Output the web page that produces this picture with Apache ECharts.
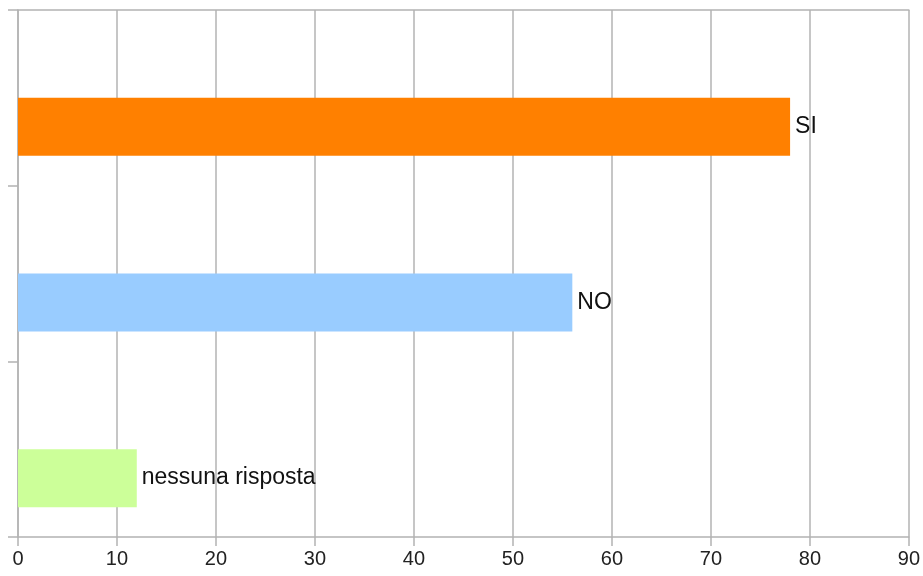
<!DOCTYPE html>
<html><head><meta charset="utf-8">
<script src="https://cdn.jsdelivr.net/npm/echarts@6/dist/echarts.min.js"></script>
<style>html,body{margin:0;padding:0;background:#fff}#c{width:923px;height:576px}</style>
</head><body><div id="c"></div>
<script>
const categories = ['nessuna risposta', 'NO', 'SI'];
const values = [12, 56, 78];
const emptyValues = [null, null, null];
const colors = ['#CCFF99', '#99CCFF', '#FF8000'];
const xTicks = [0, 10, 20, 30, 40, 50, 60, 70, 80, 90];

const chart = echarts.init(document.getElementById('c'));
chart.setOption({
  animation: false,
  grid: { left: 18, right: 10, top: 10, bottom: 39, containLabel: false },
  xAxis: [{
    type: 'value', min: xTicks[0], max: xTicks[xTicks.length - 1], interval: 10,
    axisLine: { show: true, lineStyle: { color: '#b3b3b3', width: 1.5 } },
    axisTick: { show: true, length: 9, lineStyle: { color: '#b3b3b3', width: 1.5 } },
    splitLine: { show: true, lineStyle: { color: '#b3b3b3', width: 1.5 } },
    axisLabel: { color: '#222', fontSize: 20, fontFamily: 'Liberation Sans', margin: 12 }
  }, {
    type: 'value', position: 'top', min: 0, max: 90,
    axisLine: { show: true, lineStyle: { color: '#b3b3b3', width: 1.5 } },
    axisTick: { show: false }, axisLabel: { show: false }, splitLine: { show: false }
  }],
  yAxis: {
    type: 'category', data: categories,
    axisLine: { show: true, lineStyle: { color: '#b3b3b3', width: 1.5 } },
    axisTick: { show: true, length: 10, lineStyle: { color: '#b3b3b3', width: 1.5 } },
    axisLabel: { show: false }
  },
  series: [{
    type: 'bar', xAxisIndex: 0, barCategoryGap: '34%', barGap: '0%',
    data: emptyValues
  }, {
    type: 'bar', xAxisIndex: 0, barCategoryGap: '34%', barGap: '0%',
    data: values.map((v, i) => ({ value: v, itemStyle: { color: colors[i] } })),
    label: {
      show: true, position: 'right', distance: 5,
      formatter: p => p.name,
      color: '#111', fontSize: 23, fontFamily: 'Liberation Sans'
    }
  }]
});
</script></body></html>
